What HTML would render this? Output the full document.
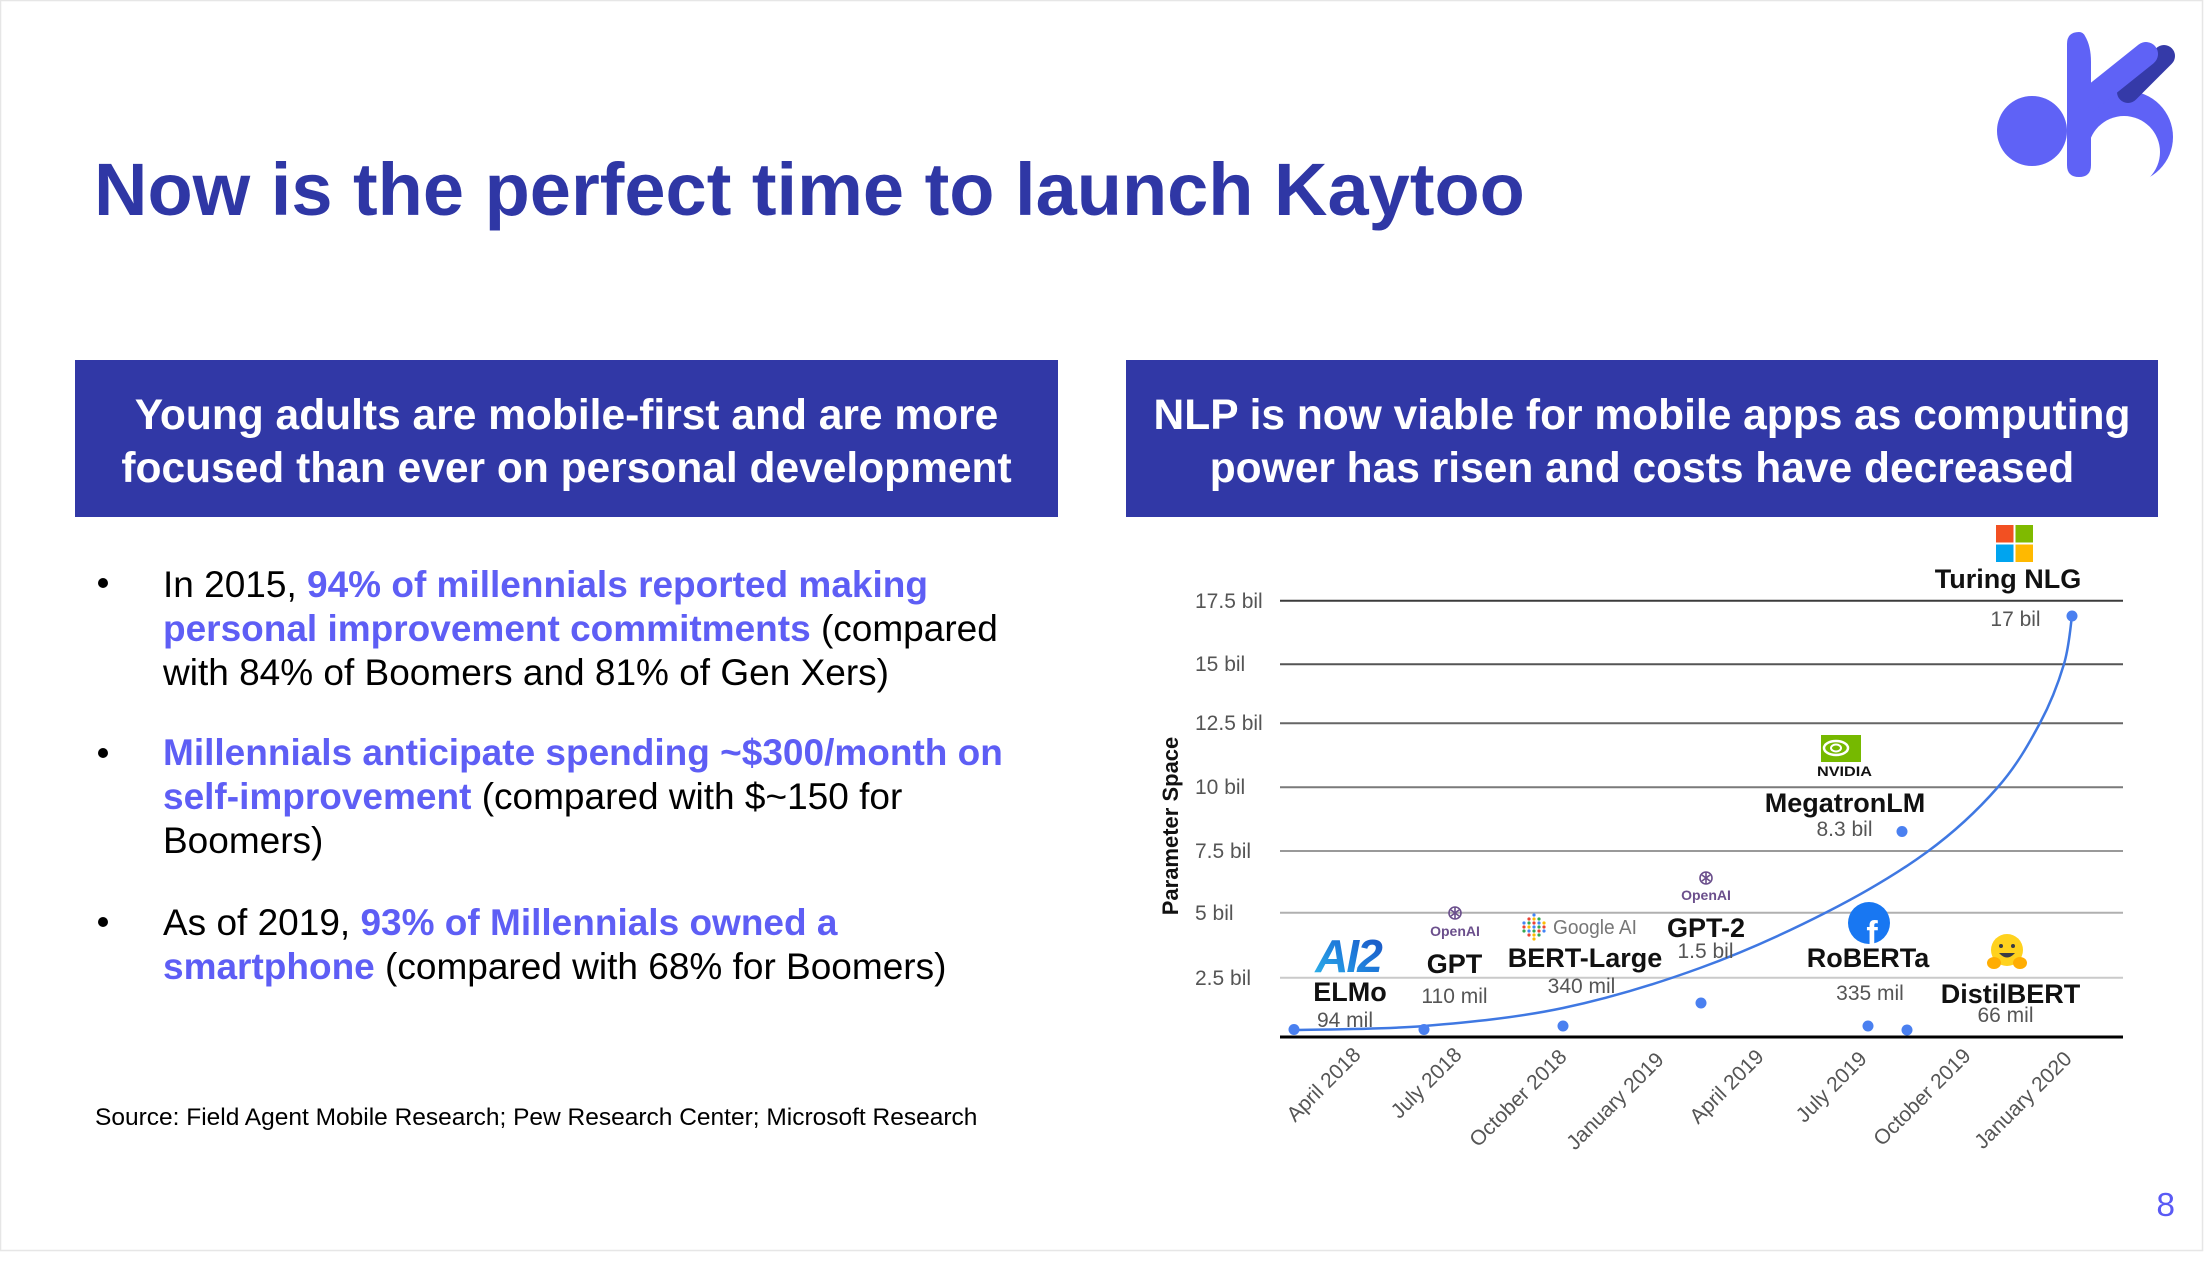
<!DOCTYPE html>
<html>
<head>
<meta charset="utf-8">
<style>
html,body{margin:0;padding:0;background:#fff;}
body{width:2206px;height:1264px;overflow:hidden;}
svg{display:block;font-family:"Liberation Sans",Arial,sans-serif;}
</style>
</head>
<body>
<svg width="2206" height="1264" viewBox="0 0 2206 1264" xmlns="http://www.w3.org/2000/svg">
<defs>
  <linearGradient id="ai2g" x1="0" y1="1" x2="1" y2="0">
    <stop offset="0" stop-color="#2fb8ea"/>
    <stop offset="0.5" stop-color="#1f7fdc"/>
    <stop offset="1" stop-color="#1b4fc0"/>
  </linearGradient>
  <mask id="bowl">
    <rect x="1990" y="20" width="216" height="200" fill="#000"/>
    <circle cx="2127" cy="137" r="46" fill="#fff"/>
    <circle cx="2124" cy="152" r="36" fill="#000"/>
  </mask>
</defs>

<!-- slide frame -->
<rect x="0.5" y="0.5" width="2202" height="1250" fill="#fff" stroke="#e6e6e6" stroke-width="1.5"/>

<!-- Title -->
<text x="94" y="215" font-size="74" font-weight="bold" fill="#2f37a5">Now is the perfect time to launch Kaytoo</text>

<!-- Logo -->
<circle cx="2032" cy="131" r="35" fill="#5f62f6"/>
<rect x="2080" y="88" width="100" height="100" fill="#5f62f6" mask="url(#bowl)"/>
<line x1="2128" y1="92" x2="2164" y2="56" stroke="#353aa8" stroke-width="22" stroke-linecap="round"/>
<line x1="2086" y1="102" x2="2146" y2="54" stroke="#5f62f6" stroke-width="24" stroke-linecap="round"/>
<path d="M2067,44 Q2067,32 2079,32 Q2083,32 2085,36 Q2091,46 2091,62 L2091,165 Q2091,177 2079,177 Q2067,177 2067,165 Z" fill="#5f62f6"/>

<!-- Header boxes -->
<rect x="75" y="360" width="983" height="157" fill="#3138a6"/>
<rect x="1126" y="360" width="1032" height="157" fill="#3138a6"/>
<g font-size="42.5" font-weight="bold" fill="#fff" text-anchor="middle">
  <text x="566.5" y="429">Young adults are mobile-first and are more</text>
  <text x="566.5" y="482">focused than ever on personal development</text>
  <text x="1642" y="429">NLP is now viable for mobile apps as computing</text>
  <text x="1642" y="482">power has risen and costs have decreased</text>
</g>

<!-- Bullets -->
<g fill="#000">
  <circle cx="103" cy="583" r="5"/>
  <circle cx="103" cy="753" r="5"/>
  <circle cx="103" cy="922" r="5"/>
</g>
<g font-size="37" fill="#000">
  <text x="163" y="597">In 2015, <tspan font-weight="bold" fill="#5e5ef5">94% of millennials reported making</tspan></text>
  <text x="163" y="641"><tspan font-weight="bold" fill="#5e5ef5">personal improvement commitments</tspan> (compared</text>
  <text x="163" y="685">with 84% of Boomers and 81% of Gen Xers)</text>
  <text x="163" y="765"><tspan font-weight="bold" fill="#5e5ef5">Millennials anticipate spending ~$300/month on</tspan></text>
  <text x="163" y="809"><tspan font-weight="bold" fill="#5e5ef5">self-improvement</tspan> (compared with $~150 for</text>
  <text x="163" y="853">Boomers)</text>
  <text x="163" y="935">As of 2019, <tspan font-weight="bold" fill="#5e5ef5">93% of Millennials owned a</tspan></text>
  <text x="163" y="979"><tspan font-weight="bold" fill="#5e5ef5">smartphone</tspan> (compared with 68% for Boomers)</text>
</g>

<!-- Source -->
<text x="95" y="1125" font-size="24.5" fill="#000">Source: Field Agent Mobile Research; Pew Research Center; Microsoft Research</text>

<!-- Page number -->
<text x="2175" y="1216" font-size="33.5" fill="#5a5af5" text-anchor="end">8</text>

<!-- ============ CHART ============ -->
<!-- gridlines -->
<g stroke-width="2">
  <line x1="1280" y1="600.7" x2="2123" y2="600.7" stroke="#3c3c3c"/>
  <line x1="1280" y1="664.3" x2="2123" y2="664.3" stroke="#555"/>
  <line x1="1280" y1="723.3" x2="2123" y2="723.3" stroke="#666"/>
  <line x1="1280" y1="787.3" x2="2123" y2="787.3" stroke="#7a7a7a"/>
  <line x1="1280" y1="851" x2="2123" y2="851" stroke="#999"/>
  <line x1="1280" y1="912.7" x2="2123" y2="912.7" stroke="#b0b0b0"/>
  <line x1="1280" y1="977.7" x2="2123" y2="977.7" stroke="#cacaca"/>
</g>
<line x1="1280" y1="1037" x2="2123" y2="1037" stroke="#000" stroke-width="3"/>

<!-- y labels -->
<g font-size="21" fill="#555">
  <text x="1195" y="608">17.5 bil</text>
  <text x="1195" y="671">15 bil</text>
  <text x="1195" y="730">12.5 bil</text>
  <text x="1195" y="794">10 bil</text>
  <text x="1195" y="858">7.5 bil</text>
  <text x="1195" y="920">5 bil</text>
  <text x="1195" y="985">2.5 bil</text>
</g>
<text x="1178" y="826" font-size="22" font-weight="bold" fill="#111" text-anchor="middle" transform="rotate(-90 1178 826)">Parameter Space</text>

<!-- x labels -->
<g font-size="21" fill="#555" text-anchor="end">
  <text x="1362" y="1056" transform="rotate(-45 1362 1056)">April 2018</text>
  <text x="1463" y="1056" transform="rotate(-45 1463 1056)">July 2018</text>
  <text x="1568" y="1058" transform="rotate(-45 1568 1058)">October 2018</text>
  <text x="1665" y="1061" transform="rotate(-45 1665 1061)">January 2019</text>
  <text x="1765" y="1058" transform="rotate(-45 1765 1058)">April 2019</text>
  <text x="1868" y="1060" transform="rotate(-45 1868 1060)">July 2019</text>
  <text x="1972" y="1057" transform="rotate(-45 1972 1057)">October 2019</text>
  <text x="2073" y="1060" transform="rotate(-45 2073 1060)">January 2020</text>
</g>

<!-- curve -->
<path d="M1294,1030 C1315.7,1029.3 1379.2,1029.7 1424,1026 C1468.8,1022.3 1517,1017.7 1563,1008 C1609,998.3 1656,984 1700,968 C1744,952 1789.2,931.3 1827,912 C1864.8,892.7 1898.5,872.8 1927,852 C1955.5,831.2 1979.2,808.5 1998,787 C2016.8,765.5 2029,743.5 2040,723 C2051,702.5 2058.7,681.8 2064,664 C2069.3,646.2 2070.7,624 2072,616" fill="none" stroke="#3f78e2" stroke-width="2.5"/>

<!-- dots -->
<g fill="#4a80f0">
  <circle cx="1294" cy="1029.5" r="5.5"/>
  <circle cx="1424" cy="1029.5" r="5.5"/>
  <circle cx="1563" cy="1026" r="5.5"/>
  <circle cx="1701" cy="1003" r="5.5"/>
  <circle cx="1902" cy="831.5" r="5.5"/>
  <circle cx="1868" cy="1026" r="5.5"/>
  <circle cx="1907" cy="1030" r="5.5"/>
  <circle cx="2072" cy="616" r="5.5"/>
</g>

<!-- model labels -->
<g font-size="27" font-weight="bold" fill="#111" text-anchor="middle">
  <text x="1350" y="1001">ELMo</text>
  <text x="1454.5" y="973">GPT</text>
  <text x="1585" y="967">BERT-Large</text>
  <text x="1706" y="937">GPT-2</text>
  <text x="1845" y="812">MegatronLM</text>
  <text x="1868" y="967">RoBERTa</text>
  <text x="2010.5" y="1003">DistilBERT</text>
  <text x="2008" y="588">Turing NLG</text>
</g>
<g font-size="21" fill="#555" text-anchor="middle">
  <text x="1345" y="1027">94 mil</text>
  <text x="1454.5" y="1003">110 mil</text>
  <text x="1581.5" y="993">340 mil</text>
  <text x="1705.5" y="958">1.5 bil</text>
  <text x="1844.5" y="836">8.3 bil</text>
  <text x="1870" y="1000">335 mil</text>
  <text x="2005.5" y="1022">66 mil</text>
  <text x="2015.5" y="626">17 bil</text>
</g>

<!-- Ai2 logo -->
<text x="1348" y="972" font-size="46" font-weight="bold" font-style="italic" fill="url(#ai2g)" text-anchor="middle" letter-spacing="-2">AI2</text>

<!-- OpenAI logos -->
<g fill="none" stroke="#6b4f8c" stroke-width="1.6">
  <circle cx="1455" cy="913" r="6"/>
  <path d="M1451,910 L1459,916 M1459,910 L1451,916 M1455,907 L1455,919"/>
  <circle cx="1706" cy="878" r="6"/>
  <path d="M1702,875 L1710,881 M1710,875 L1702,881 M1706,872 L1706,884"/>
</g>
<g font-size="14" font-weight="bold" fill="#6b4f8c" text-anchor="middle">
  <text x="1455" y="936">OpenAI</text>
  <text x="1706" y="900">OpenAI</text>
</g>

<!-- Google AI -->
<g>
  <circle cx="1534" cy="915" r="1.6" fill="#4285f4"/>
  <circle cx="1529" cy="919" r="1.6" fill="#ea4335"/>
  <circle cx="1534" cy="919" r="1.6" fill="#fbbc05"/>
  <circle cx="1539" cy="919" r="1.6" fill="#34a853"/>
  <circle cx="1524" cy="923" r="1.6" fill="#4285f4"/>
  <circle cx="1529" cy="923" r="1.6" fill="#34a853"/>
  <circle cx="1534" cy="923" r="1.6" fill="#ea4335"/>
  <circle cx="1539" cy="923" r="1.6" fill="#4285f4"/>
  <circle cx="1544" cy="923" r="1.6" fill="#fbbc05"/>
  <circle cx="1524" cy="927" r="1.6" fill="#ea4335"/>
  <circle cx="1529" cy="927" r="1.6" fill="#fbbc05"/>
  <circle cx="1534" cy="927" r="1.6" fill="#4285f4"/>
  <circle cx="1539" cy="927" r="1.6" fill="#34a853"/>
  <circle cx="1544" cy="927" r="1.6" fill="#ea4335"/>
  <circle cx="1524" cy="931" r="1.6" fill="#34a853"/>
  <circle cx="1529" cy="931" r="1.6" fill="#4285f4"/>
  <circle cx="1534" cy="931" r="1.6" fill="#34a853"/>
  <circle cx="1539" cy="931" r="1.6" fill="#ea4335"/>
  <circle cx="1544" cy="931" r="1.6" fill="#4285f4"/>
  <circle cx="1529" cy="935" r="1.6" fill="#ea4335"/>
  <circle cx="1534" cy="935" r="1.6" fill="#fbbc05"/>
  <circle cx="1539" cy="935" r="1.6" fill="#34a853"/>
  <circle cx="1534" cy="939" r="1.6" fill="#fbbc05"/>
</g>
<text x="1553" y="934" font-size="20.5" fill="#777" textLength="84" lengthAdjust="spacingAndGlyphs">Google AI</text>

<!-- NVIDIA -->
<rect x="1821" y="735" width="40" height="27" fill="#76b900"/>
<ellipse cx="1836" cy="748" rx="12" ry="7" fill="none" stroke="#fff" stroke-width="2.5"/>
<ellipse cx="1836" cy="748" rx="5" ry="3.5" fill="none" stroke="#fff" stroke-width="2"/>
<text x="1844.5" y="776" font-size="14" font-weight="bold" fill="#111" text-anchor="middle" textLength="55" lengthAdjust="spacingAndGlyphs">NVIDIA</text>

<!-- Facebook -->
<circle cx="1869" cy="923" r="21" fill="#1877f2"/>
<text x="1872" y="945" font-size="34" font-weight="bold" fill="#fff" text-anchor="middle">f</text>

<!-- Hugging face -->
<circle cx="2007" cy="950" r="16" fill="#ffd21e"/>
<circle cx="2001" cy="946" r="2" fill="#3a3b45"/>
<circle cx="2013" cy="946" r="2" fill="#3a3b45"/>
<path d="M1999,953 Q2007,962 2015,953 Z" fill="#3a3b45"/>
<ellipse cx="1994" cy="963" rx="7" ry="6" fill="#ffad03"/>
<ellipse cx="2020" cy="963" rx="7" ry="6" fill="#ffad03"/>

<!-- Microsoft -->
<rect x="1996" y="525" width="17.5" height="17.5" fill="#f25022"/>
<rect x="2015.5" y="525" width="17.5" height="17.5" fill="#7fba00"/>
<rect x="1996" y="544.5" width="17.5" height="17.5" fill="#00a4ef"/>
<rect x="2015.5" y="544.5" width="17.5" height="17.5" fill="#ffb900"/>
</svg>
</body>
</html>
